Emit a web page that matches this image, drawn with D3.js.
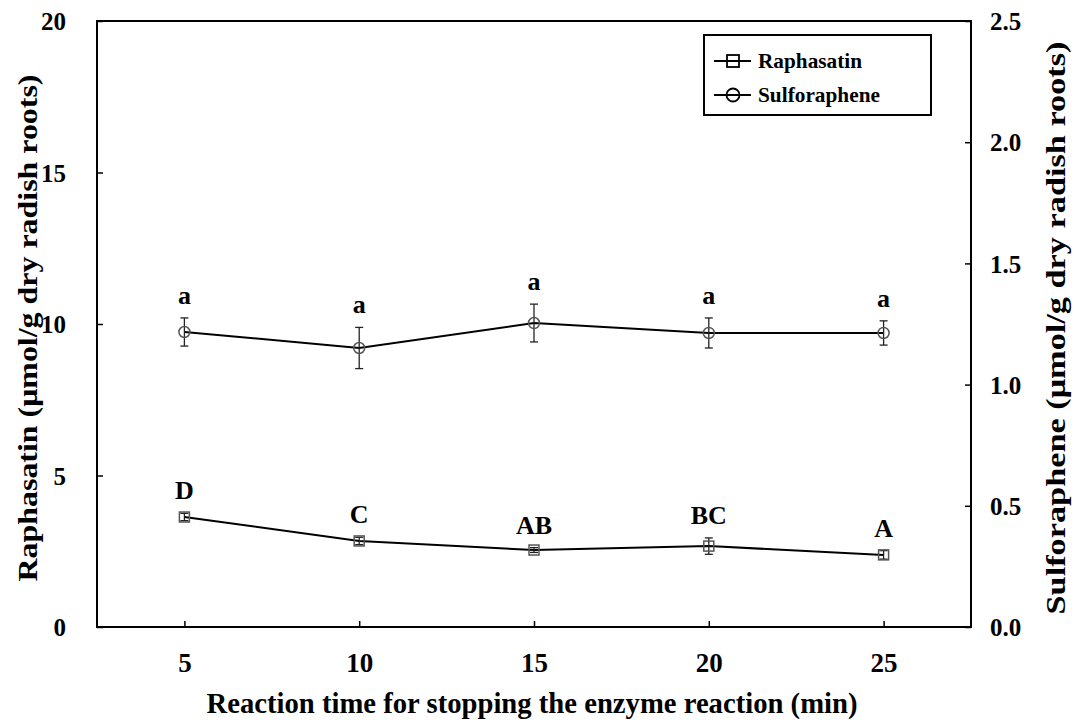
<!DOCTYPE html>
<html><head><meta charset="utf-8">
<script src="https://cdn.jsdelivr.net/npm/d3@7"></script>
<style>body{margin:0;background:#fff}svg{display:block}</style>
</head><body><svg id="c" width="1079" height="723"></svg>
<script>
const times = [5, 10, 15, 20, 25];
const raphasatin = [3.63, 2.84, 2.54, 2.67, 2.38];
const raphasatinErr = [0.12, 0.12, 0.08, 0.27, 0.14];
const raphasatinLetters = ["D", "C", "AB", "BC", "A"];
const sulforaphene = [1.217, 1.151, 1.254, 1.213, 1.213];
const sulforapheneErr = [0.058, 0.085, 0.078, 0.062, 0.05];
const sulforapheneLetters = ["a", "a", "a", "a", "a"];
const leftTicks = [0, 5, 10, 15, 20];
const rightTicks = [0.0, 0.5, 1.0, 1.5, 2.0, 2.5];
const xTicks = [5, 10, 15, 20, 25];

const FONT = "'Liberation Serif', 'Times New Roman', Times, 'DejaVu Serif', serif";
const svg = d3.select("#c").attr("font-family", FONT).attr("font-weight", "bold");
const L = 97, R = 971, T = 21, B = 627;
const x = d3.scaleLinear().domain([2.5, 27.5]).range([L, R]);
const yL = d3.scaleLinear().domain([0, 20]).range([B, T]);
const yR = d3.scaleLinear().domain([0, 2.5]).range([B, T]);

// frame
svg.append("rect").attr("x", L).attr("y", T).attr("width", R - L).attr("height", B - T)
  .attr("fill", "none").attr("stroke", "#000").attr("stroke-width", 2);

function styleAxis(g) {
  g.attr("font-family", FONT).attr("font-weight", "bold");
  g.select(".domain").remove();
  g.selectAll(".tick line").attr("stroke", "#000").attr("stroke-width", 1.5);
  g.selectAll(".tick text").attr("fill", "#000").style("font-family", FONT).style("font-weight", "bold");
}

// left axis
const gl = svg.append("g").attr("transform", `translate(${L},0)`)
  .call(d3.axisRight(yL).tickValues(leftTicks).tickSize(6).tickFormat(d3.format("d")));
styleAxis(gl);
gl.selectAll(".tick text").attr("x", -31).attr("text-anchor", "end").attr("font-size", 25).attr("dy", "0.35em");

// right axis
const gr = svg.append("g").attr("transform", `translate(${R},0)`)
  .call(d3.axisLeft(yR).tickValues(rightTicks).tickSize(6).tickFormat(d3.format(".1f")));
styleAxis(gr);
gr.selectAll(".tick text").attr("x", 19).attr("text-anchor", "start").attr("font-size", 25).attr("dy", "0.35em");

// bottom axis
const gb = svg.append("g").attr("transform", `translate(0,${B})`)
  .call(d3.axisTop(x).tickValues(xTicks).tickSize(6).tickFormat(d3.format("d")));
styleAxis(gb);
gb.selectAll(".tick text").attr("y", 45).attr("dy", 0).attr("font-size", 27).attr("text-anchor", "middle");

function txt(sel) { return sel.style("font-family", FONT).style("font-weight", "bold").attr("fill", "#000"); }

// titles
txt(svg.append("text")).attr("x", 532).attr("y", 713).attr("text-anchor", "middle")
  .attr("font-size", 29).attr("textLength", 651).attr("lengthAdjust", "spacingAndGlyphs")
  .text("Reaction time for stopping the enzyme reaction (min)");
txt(svg.append("text")).attr("transform", "translate(37,328) rotate(-90)").attr("text-anchor", "middle")
  .attr("font-size", 27).attr("textLength", 507).attr("lengthAdjust", "spacingAndGlyphs")
  .text("Raphasatin (μmol/g dry radish roots)");
txt(svg.append("text")).attr("transform", "translate(1065,328) rotate(-90)").attr("text-anchor", "middle")
  .attr("font-size", 27).attr("textLength", 573).attr("lengthAdjust", "spacingAndGlyphs")
  .text("Sulforaphene (μmol/g dry radish roots)");

function series(vals, errs, letters, y, shape) {
  const g = svg.append("g");
  const line = d3.line().x((d, i) => x(times[i])).y(d => y(d));
  g.append("path").datum(vals).attr("d", line).attr("fill", "none").attr("stroke", "#000").attr("stroke-width", 2);
  vals.forEach((v, i) => {
    const cx = x(times[i]);
    const y1 = y(v + errs[i]), y2 = y(v - errs[i]);
    g.append("line").attr("x1", cx).attr("x2", cx).attr("y1", y1).attr("y2", y2).attr("stroke", "#222").attr("stroke-width", 1.3);
    [y1, y2].forEach(yy => g.append("line").attr("x1", cx - 4).attr("x2", cx + 4).attr("y1", yy).attr("y2", yy).attr("stroke", "#222").attr("stroke-width", 1.3));
    if (shape === "square") {
      g.append("rect").attr("x", cx - 5).attr("y", y(v) - 5).attr("width", 10).attr("height", 10)
        .attr("fill", "none").attr("stroke", "#555").attr("stroke-width", 1.5);
    } else {
      g.append("circle").attr("cx", cx).attr("cy", y(v)).attr("r", 5.5)
        .attr("fill", "none").attr("stroke", "#555").attr("stroke-width", 1.5);
    }
    txt(g.append("text")).attr("x", cx).attr("y", y1 - 14).attr("text-anchor", "middle").attr("font-size", 26).text(letters[i]);
  });
}
series(raphasatin, raphasatinErr, raphasatinLetters, yL, "square");
series(sulforaphene, sulforapheneErr, sulforapheneLetters, yR, "circle");

// legend
const lg = svg.append("g");
lg.append("rect").attr("x", 704).attr("y", 35).attr("width", 227).attr("height", 80)
  .attr("fill", "#fff").attr("stroke", "#000").attr("stroke-width", 2);
const items = [["Raphasatin", "square", 61, 104], ["Sulforaphene", "circle", 95, 122]];
items.forEach(([name, shape, yy, len]) => {
  lg.append("line").attr("x1", 714).attr("x2", 751).attr("y1", yy).attr("y2", yy).attr("stroke", "#000").attr("stroke-width", 2);
  if (shape === "square") lg.append("rect").attr("x", 727).attr("y", yy - 6).attr("width", 12).attr("height", 12).attr("fill", "none").attr("stroke", "#000").attr("stroke-width", 1.8);
  else lg.append("circle").attr("cx", 733).attr("cy", yy).attr("r", 6.5).attr("fill", "none").attr("stroke", "#000").attr("stroke-width", 1.8);
  txt(lg.append("text")).attr("x", 758).attr("y", yy + 7).attr("font-size", 21)
    .attr("textLength", len).attr("lengthAdjust", "spacingAndGlyphs").text(name);
});
</script></body></html>
